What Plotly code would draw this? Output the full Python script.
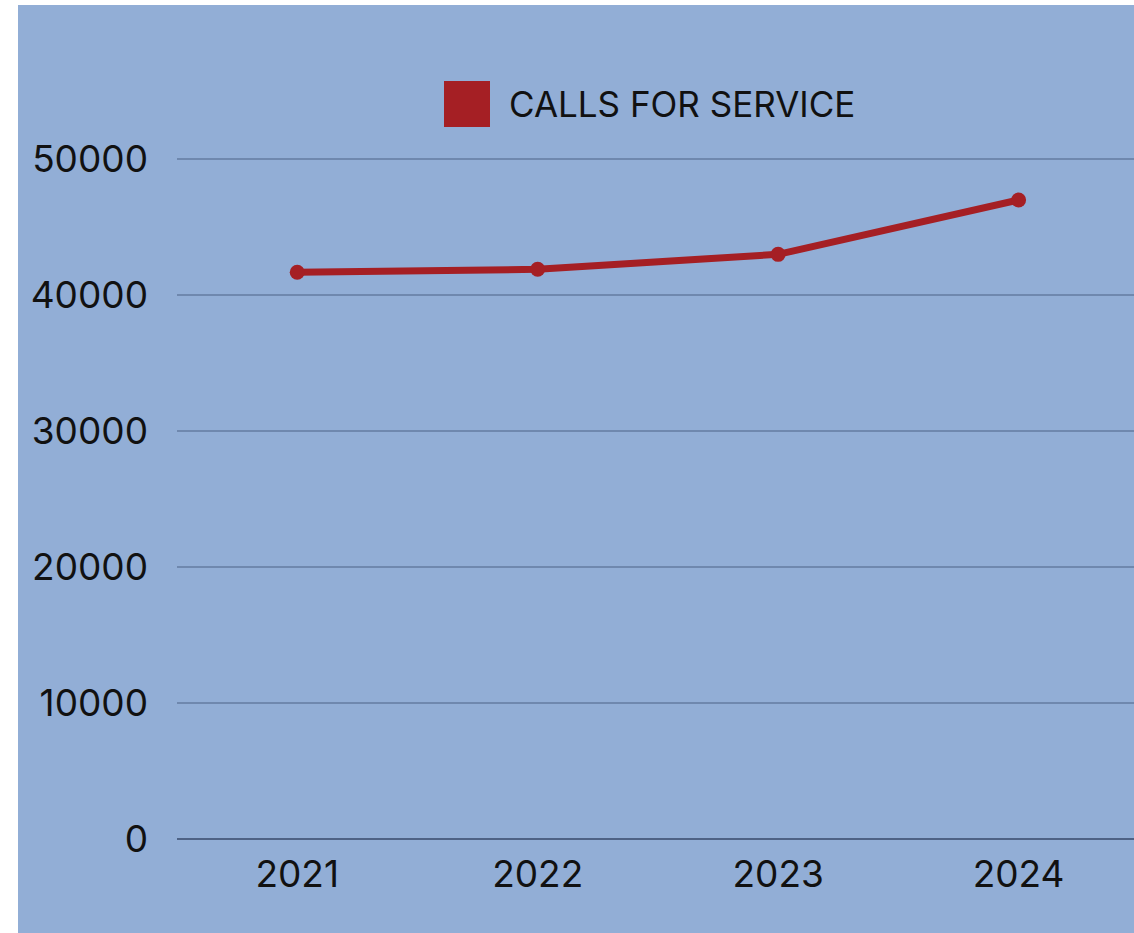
import plotly.graph_objects as go

years = ["2021", "2022", "2023", "2024"]
calls = [41670, 41890, 42990, 46990]
series_name = "CALLS FOR SERVICE"
y_ticks = [0, 10000, 20000, 30000, 40000, 50000]

W, H = 1134, 933
L, R, T, B = 177, 0, 139, 94
pw, ph = W - L - R, H - T - B

def px_x(x):
    return (x - L) / pw

def px_y(y):
    return (H - B - y) / ph

RED = "#A51F24"
BLUE = "#92AED6"
FONT = "Inter"
TXT = "#111111"

fig = go.Figure()
fig.add_trace(go.Scatter(
    x=years, y=calls, mode="lines+markers", name=series_name,
    line=dict(color=RED, width=7),
    marker=dict(color=RED, size=15),
    showlegend=False, cliponaxis=False,
))

fig.update_layout(
    width=W, height=H,
    margin=dict(l=L, r=R, t=T, b=B, pad=0),
    paper_bgcolor="white",
    plot_bgcolor=BLUE,
    font=dict(family=FONT, size=37, color=TXT),
    showlegend=False,
    xaxis=dict(
        type="category", range=[-0.5, 3.48], showgrid=False,
        zeroline=False, showline=False, ticks="",
        ticklabelstandoff=10, tickfont=dict(size=37),
    ),
    yaxis=dict(
        range=[0, 51470], tickvals=y_ticks, ticktext=[str(v) for v in y_ticks],
        showgrid=True, gridcolor="#6F88AE", gridwidth=1.5,
        zeroline=True, zerolinecolor="#4E6285", zerolinewidth=2,
        showline=False, ticks="", ticklabelstandoff=28,
        tickfont=dict(size=37),
    ),
    shapes=[
        dict(type="rect", xref="paper", yref="paper", layer="below",
             x0=px_x(18), x1=1.01, y0=px_y(940), y1=px_y(5),
             fillcolor=BLUE, line=dict(width=0)),
        dict(type="rect", xref="paper", yref="paper",
             x0=px_x(444), x1=px_x(490), y0=px_y(127), y1=px_y(81),
             fillcolor=RED, line=dict(width=0)),
    ],
    annotations=[
        dict(text=series_name, xref="paper", yref="paper",
             x=px_x(507), y=px_y(104), xanchor="left", yanchor="middle",
             showarrow=False, font=dict(size=35, family=FONT, color=TXT)),
    ],
)

fig.write_html("out.html", config={"displayModeBar": False},
               post_script="document.body.style.margin='0px';")
